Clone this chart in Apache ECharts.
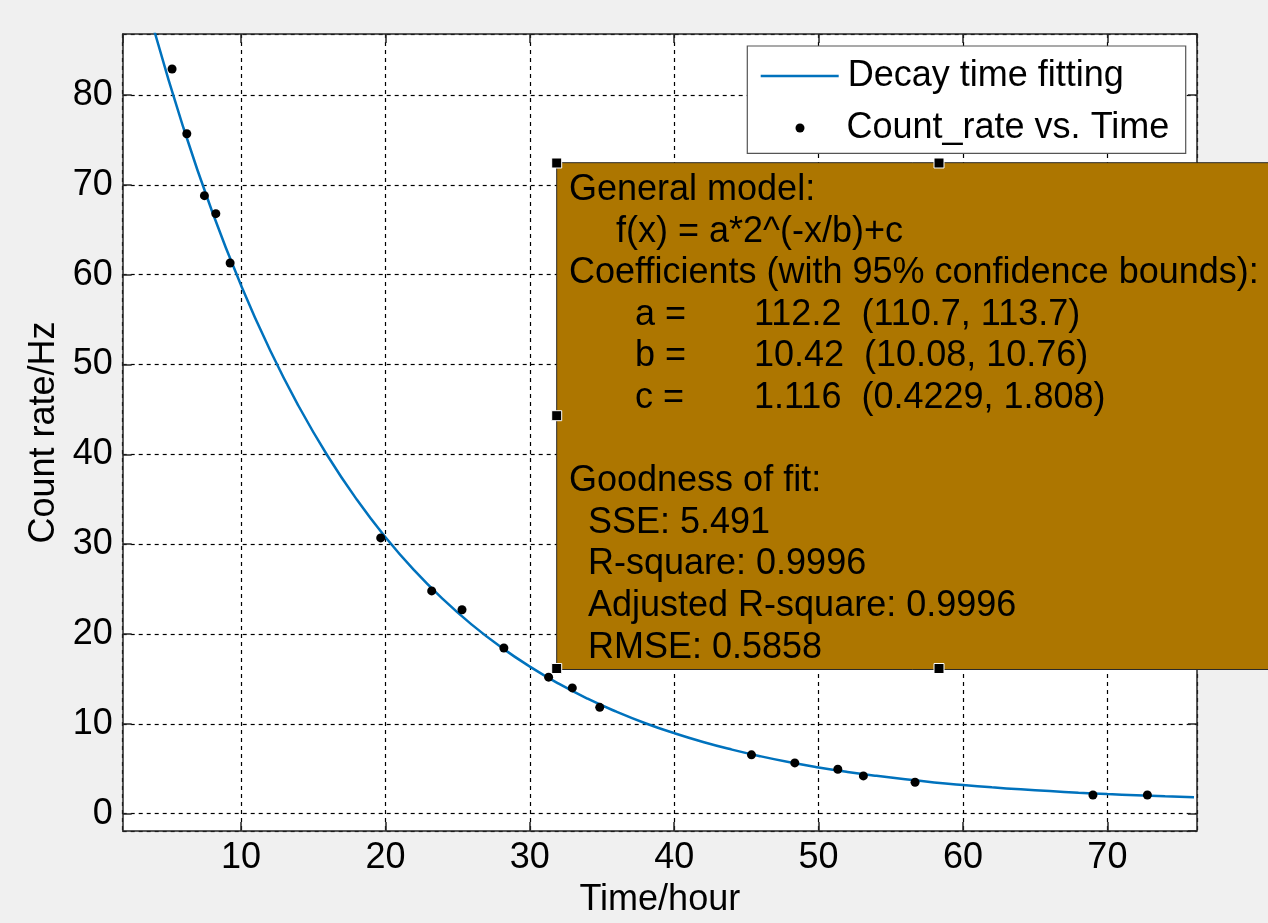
<!DOCTYPE html>
<html>
<head>
<meta charset="utf-8">
<title>Decay time fitting</title>
<script src="https://cdn.jsdelivr.net/npm/echarts@6/dist/echarts.min.js"></script>
<style>
  html, body { margin: 0; padding: 0; background: #f0f0f0; }
  #chart { width: 1268px; height: 923px; }
</style>
</head>
<body>
<div id="chart"></div>
<script>
// measured points (Time/hour, Count rate/Hz)
const timeHours = [5.22, 6.24, 7.46, 8.25, 9.24, 19.67, 23.2, 25.3, 28.2, 31.3, 32.94, 34.84, 45.35, 48.35, 51.33, 53.1, 56.68, 69.0, 72.77];
const countRate = [82.9, 75.7, 68.8, 66.8, 61.3, 30.7, 24.8, 22.7, 18.44, 15.2, 14.0, 11.84, 6.55, 5.65, 4.95, 4.2, 3.5, 2.08, 2.08];

// fitted curve
const fitX = [2, 4, 6, 8, 10, 12, 14, 16, 18, 20, 22, 24, 26, 28, 30, 32, 34, 36, 38, 40,
  42, 44, 46, 48, 50, 52, 54, 56, 58, 60, 62, 64, 66, 68, 70, 72, 74, 76];
const fitY = [99.34, 87.10, 76.39, 67.01, 58.81, 51.62, 45.33, 39.82, 35.00, 30.78, 27.08, 23.85,
  21.02, 18.54, 16.37, 14.47, 12.80, 11.35, 10.07, 8.96, 7.98, 7.13, 6.38, 5.72, 5.15, 4.65,
  4.21, 3.82, 3.48, 3.19, 2.93, 2.71, 2.51, 2.33, 2.18, 2.05, 1.93, 1.83];

// fit result text box
const fitTitle = 'General model:';
const fitModel = 'f(x) = a*2^(-x/b)+c';
const coefTitle = 'Coefficients (with 95% confidence bounds):';
const coefNames = ['a =', 'b =', 'c ='];
const coefValues = ['112.2  (110.7, 113.7)', '10.42  (10.08, 10.76)', '1.116  (0.4229, 1.808)'];
const gofTitle = 'Goodness of fit:';
const gofLines = ['SSE: 5.491', 'R-square: 0.9996', 'Adjusted R-square: 0.9996', 'RMSE: 0.5858'];

const FONT = '"Liberation Sans", Arial, sans-serif';
const AXIS_COLOR = '#262626';

const chart = echarts.init(document.getElementById('chart'));

const axisCommon = {
  axisLine: { show: true, onZero: false, lineStyle: { color: AXIS_COLOR, width: 1.5 } },
  axisTick: { show: true, inside: true, length: 9, lineStyle: { color: AXIS_COLOR, width: 1.5 } }
};

function txt(text, x, y) {
  return {
    type: 'text', z: 101,
    style: { text: text, x: x, y: y, fill: '#000', fontSize: 36, fontFamily: FONT, verticalAlign: 'middle' }
  };
}
function handle(x, y) {
  return {
    type: 'rect', z: 102,
    shape: { x: x - 5, y: y - 5, width: 10, height: 10 },
    style: { fill: '#000', stroke: '#fff', lineWidth: 1 }
  };
}

const LH = 41.6;
const boxText = [
  txt(fitTitle, 569, 190),
  txt(fitModel, 616, 190 + LH),
  txt(coefTitle, 569, 190 + 2 * LH)
];
coefNames.forEach((n, i) => {
  boxText.push(txt(n, 635, 190 + (3 + i) * LH));
  boxText.push(txt(coefValues[i], 754, 190 + (3 + i) * LH));
});
boxText.push(txt(gofTitle, 569, 190 + 7 * LH));
gofLines.forEach((l, i) => boxText.push(txt(l, 588, 190 + (8 + i) * LH)));

chart.setOption({
  backgroundColor: '#f0f0f0',
  animation: false,
  textStyle: { fontFamily: FONT },
  grid: {
    left: 122.7, right: 71.1, top: 34, bottom: 90.3,
    show: true, backgroundColor: '#fff', borderWidth: 0
  },
  legend: [{
    data: ['Decay time fitting'],
    left: 760.7, top: 58, padding: 0,
    icon: 'rect', itemWidth: 78, itemHeight: 2.5, itemGap: 0,
    textStyle: { fontSize: 36, color: '#000', fontFamily: FONT, padding: [0, 0, 0, 4] },
    selectedMode: false, z: 10
  }, {
    data: ['Count_rate vs. Time'],
    left: 795.5, top: 110, padding: 0,
    icon: 'circle', itemWidth: 9, itemHeight: 9,
    textStyle: { fontSize: 36, color: '#000', fontFamily: FONT, padding: [0, 0, 0, 37] },
    selectedMode: false, z: 10
  }],
  xAxis: [Object.assign({
    type: 'value', position: 'bottom',
    min: 1.8, max: 76.2, splitNumber: 7,
    name: 'Time/hour', nameLocation: 'middle', nameGap: 51,
    nameTextStyle: { fontSize: 36, color: '#000', fontFamily: FONT },
    axisLabel: { fontSize: 36, color: '#000', margin: 9, showMinLabel: false, showMaxLabel: false },
    splitLine: { show: true, lineStyle: { color: '#000', type: [4, 4], width: 1.2 } }
  }, axisCommon), Object.assign({
    type: 'value', position: 'top',
    min: 1.8, max: 76.2, splitNumber: 7,
    axisLabel: { show: false },
    splitLine: { show: false }
  }, axisCommon)],
  yAxis: [Object.assign({
    type: 'value', position: 'left',
    min: -1.93, max: 86.8, splitNumber: 9,
    name: 'Count rate/Hz', nameLocation: 'middle', nameGap: 58,
    nameTextStyle: { fontSize: 36, color: '#000', fontFamily: FONT },
    axisLabel: { fontSize: 36, color: '#000', margin: 10, showMinLabel: false, showMaxLabel: false },
    splitLine: { show: true, lineStyle: { color: '#000', type: [4, 4], width: 1.2 } }
  }, axisCommon), Object.assign({
    type: 'value', position: 'right',
    min: -1.93, max: 86.8, splitNumber: 9,
    axisLabel: { show: false },
    splitLine: { show: false }
  }, axisCommon)],
  series: [{
    name: 'Decay time fitting',
    type: 'line',
    data: fitX.map((x, i) => [x, fitY[i]]),
    smooth: true,
    symbol: 'none',
    clip: true,
    lineStyle: { color: '#0072bd', width: 2.5 },
    itemStyle: { color: '#0072bd' },
    z: 3
  }, {
    name: 'Count_rate vs. Time',
    type: 'scatter',
    data: timeHours.map((x, i) => [x, countRate[i]]),
    symbol: 'circle',
    symbolSize: 9,
    itemStyle: { color: '#000', opacity: 1 },
    z: 4
  }],
  graphic: [
    // legend frame
    {
      type: 'rect', z: 5,
      shape: { x: 747.3, y: 46, width: 438.4, height: 107.3 },
      style: { fill: '#fff', stroke: '#555', lineWidth: 1.2 }
    },
    // fit result box
    {
      type: 'rect', z: 100,
      shape: { x: 556.7, y: 162.7, width: 720, height: 506.8 },
      style: { fill: '#ad7600', stroke: '#2a2a2a', lineWidth: 1 }
    }
  ].concat(boxText, [
    handle(556.7, 163), handle(939, 163), handle(556.7, 415.7), handle(556.7, 668.5), handle(939, 668.5)
  ])
});
</script>
</body>
</html>
